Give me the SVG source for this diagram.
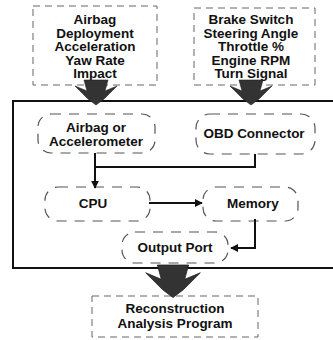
<svg xmlns="http://www.w3.org/2000/svg" width="333" height="340" viewBox="0 0 333 340">
<style>
.t{font-family:"Liberation Sans",Arial,sans-serif;font-weight:bold;font-size:13.5px;fill:#111;text-anchor:middle}
.db{fill:none;stroke:#666;stroke-width:1;stroke-dasharray:7 5}
.dn{fill:none;stroke:#555;stroke-width:1.2;stroke-dasharray:10 8}
.ln{fill:none;stroke:#111;stroke-width:2}
.fat{fill:#333;stroke:#222;stroke-width:0.6}
</style>
<defs>
<marker id="ah" viewBox="0 0 10 10" refX="9" refY="5" markerWidth="4" markerHeight="4" orient="auto">
<path d="M0,0 L10,5 L0,10 z" fill="#111"/>
</marker>
<path id="fat" d="M-12,0 L12,0 L9,11 L21,6 L8,19 L0,25 L-8,19 L-21,6 L-9,11 Z"/>
</defs>
<rect x="13" y="101" width="330" height="167" fill="none" stroke="#111" stroke-width="2"/>
<g id="src1">
<rect class="db" x="33" y="6" width="124" height="79"/>
<text class="t" x="95" y="24">Airbag</text>
<text class="t" x="95" y="37.5">Deployment</text>
<text class="t" x="95" y="51">Acceleration</text>
<text class="t" x="95" y="64.5">Yaw Rate</text>
<text class="t" x="95" y="78">Impact</text>
</g>
<g id="src2">
<rect class="db" x="194" y="8" width="121" height="77"/>
<text class="t" x="251" y="24">Brake Switch</text>
<text class="t" x="251" y="37.5">Steering Angle</text>
<text class="t" x="251" y="51">Throttle %</text>
<text class="t" x="251" y="64.5">Engine RPM</text>
<text class="t" x="251" y="78">Turn Signal</text>
</g>
<g id="airbag">
<rect class="dn" x="38" y="114" width="117" height="39" rx="13"/>
<text class="t" x="96" y="132">Airbag or</text>
<text class="t" x="96" y="146">Accelerometer</text>
</g>
<g id="obd">
<rect class="dn" x="196" y="114" width="119" height="40" rx="14"/>
<text class="t" x="254" y="138">OBD Connector</text>
</g>
<g id="cpu">
<rect class="dn" x="45" y="187" width="105" height="34" rx="13"/>
<text class="t" x="93" y="208">CPU</text>
</g>
<g id="memory">
<rect class="dn" x="203" y="187" width="95" height="34" rx="13"/>
<text class="t" x="253" y="208">Memory</text>
</g>
<g id="output">
<rect class="dn" x="122" y="232" width="106" height="31" rx="13"/>
<text class="t" x="175" y="252">Output Port</text>
</g>
<g id="recon">
<rect class="db" x="92" y="296" width="166" height="41"/>
<text class="t" x="175" y="313">Reconstruction</text>
<text class="t" x="175" y="328">Analysis Program</text>
</g>
<g id="connectors">
<use href="#fat" class="fat" x="96" y="80"/>
<use href="#fat" class="fat" x="251" y="80"/>
<use href="#fat" class="fat" transform="translate(173,265) scale(1.3)"/>
<path class="ln" d="M255,154 V167 H95"/>
<path class="ln" d="M95,153 V188" marker-end="url(#ah)"/>
<path class="ln" d="M149,203 H202" marker-end="url(#ah)"/>
<path class="ln" d="M255,219 V248 H231" marker-end="url(#ah)"/>
</g>
</svg>
